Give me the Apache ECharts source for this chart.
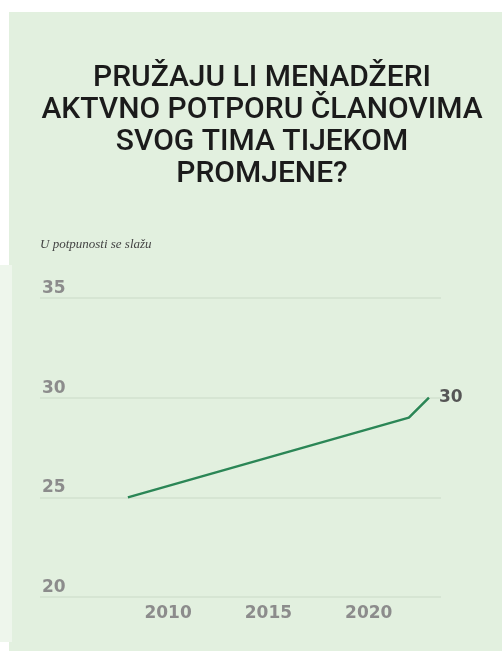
<!DOCTYPE html>
<html>
<head>
<meta charset="utf-8">
<script src="https://cdn.jsdelivr.net/npm/echarts@6/dist/echarts.min.js"></script>
<style>
html,body{margin:0;padding:0;background:#ffffff;}
#chart{width:502px;height:651px;}
</style>
</head>
<body>
<div id="chart"></div>
<script>
const titleLines = ['PRUŽAJU LI MENADŽERI', 'AKTVNO POTPORU ČLANOVIMA', 'SVOG TIMA TIJEKOM', 'PROMJENE?'];
const subtitle = 'U potpunosti se slažu';
const years = [2008, 2022, 2023];
const values = [25, 29, 30];
const xTickLabels = [2010, 2015, 2020];
const yTicks = [20, 25, 30, 35];

const chart = echarts.init(document.getElementById('chart'), null, {renderer: 'canvas'});
const seriesData = years.map((y, i) => [y, values[i]]);

chart.setOption({
  backgroundColor: '#e2f0df',
  animation: false,
  graphic: [
    {type: 'rect', shape: {x: 0, y: 0, width: 502, height: 12}, style: {fill: '#ffffff'}, silent: true, z: -10},
    {type: 'rect', shape: {x: 0, y: 0, width: 9, height: 265}, style: {fill: '#ffffff'}, silent: true, z: -10},
    {type: 'rect', shape: {x: 0, y: 265, width: 12, height: 377}, style: {fill: '#eef6ec'}, silent: true, z: -10},
    {type: 'rect', shape: {x: 0, y: 642, width: 9, height: 9}, style: {fill: '#ffffff'}, silent: true, z: -10},
    {type: 'text', x: 262, y: 62, style: {
      text: titleLines.join('\n'), fontFamily: 'Roboto', fontWeight: 500, fontSize: 30,
      lineHeight: 32, fill: '#1b1b1b', align: 'center', verticalAlign: 'top'
    }, silent: true, z: 10},
    {type: 'text', x: 40, y: 238, style: {
      text: subtitle, fontFamily: 'Liberation Serif', fontStyle: 'italic', fontSize: 13,
      fill: '#444444', verticalAlign: 'top'
    }, silent: true, z: 10}
  ],
  grid: {left: 40, right: 61, top: 298, bottom: 54, containLabel: false},
  xAxis: {
    type: 'value', min: 2003.62, max: 2023.6,
    axisLine: {show: false}, axisTick: {show: false}, splitLine: {show: false},
    axisLabel: {
      customValues: xTickLabels, color: '#8c8c8c', fontFamily: 'DejaVu Sans', fontWeight: 'bold',
      fontSize: 17, margin: 8, formatter: v => String(v)
    }
  },
  yAxis: {
    type: 'value', min: 20, max: 35, interval: 5,
    axisLine: {show: false}, axisTick: {show: false},
    splitLine: {lineStyle: {color: '#d2e2cf', width: 1.5}},
    axisLabel: {
      inside: true, margin: 2, align: 'left', verticalAlign: 'bottom', fontWeight: 'bold',
      color: '#8c8c8c', fontFamily: 'DejaVu Sans', fontSize: 17, padding: [0, 0, 1, 0]
    }
  },
  series: [{
    type: 'line', data: seriesData, symbol: 'none',
    lineStyle: {color: '#2b8656', width: 2.5},
    endLabel: {
      show: true, distance: 10, color: '#555555', fontFamily: 'DejaVu Sans', fontWeight: 'bold', fontSize: 17,
      formatter: p => String(p.value[1])
    }
  }]
});
</script>
</body>
</html>
